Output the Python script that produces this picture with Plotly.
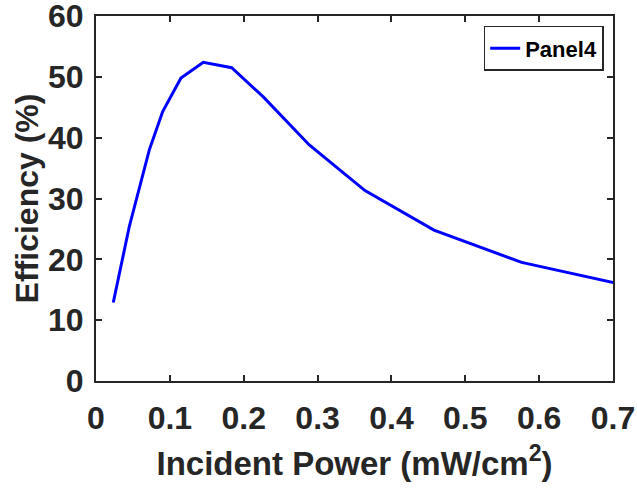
import plotly.graph_objects as go

incident_power = [0.0234, 0.0451, 0.0722, 0.0903, 0.115, 0.1453, 0.1837, 0.2265,
                  0.2888, 0.3642, 0.4576, 0.5763, 0.726]
efficiency = [12.9, 25.4, 38.0, 44.3, 49.8, 52.4, 51.5, 46.7,
              38.8, 31.3, 24.8, 19.5, 15.5]

x_ticks = [0, 0.1, 0.2, 0.3, 0.4, 0.5, 0.6, 0.7]
x_tick_labels = ["0", "0.1", "0.2", "0.3", "0.4", "0.5", "0.6", "0.7"]
y_ticks = [0, 10, 20, 30, 40, 50, 60]
y_tick_labels = ["0", "10", "20", "30", "40", "50", "60"]

axis_color = "#262626"
font_family = "Liberation Sans, Arial, Helvetica, sans-serif"

fig = go.Figure()
fig.add_trace(go.Scatter(
    x=incident_power, y=efficiency, mode="lines", name="<b>Panel4</b>",
    line=dict(color="#0000FF", width=3),
))

axis_common = dict(
    showgrid=False, zeroline=False, showline=True, linecolor=axis_color,
    linewidth=2, mirror="ticks", ticks="inside", ticklen=6, tickwidth=2,
    tickcolor=axis_color, automargin=False, ticklabeloverflow="allow",
    tickfont=dict(family=font_family, size=32, color=axis_color),
)

fig.update_layout(
    width=637, height=488,
    margin=dict(l=96, r=24, t=16, b=107),
    paper_bgcolor="white", plot_bgcolor="white",
    font=dict(family=font_family, color=axis_color),
    showlegend=True,
    legend=dict(
        x=0.982, y=0.973, xanchor="right", yanchor="top",
        bgcolor="white", bordercolor=axis_color, borderwidth=1.5,
        font=dict(family=font_family, size=22, color="black"),
        itemwidth=30, tracegroupgap=0,
    ),
    xaxis=dict(
        range=[0, 0.7], tickvals=x_ticks, ticktext=[f"<b>{t}</b>" for t in x_tick_labels],
        title=dict(text="<b>Incident Power (mW/cm<sup>2</sup>)</b>",
                   font=dict(family=font_family, size=33, color=axis_color),
                   standoff=16),
        ticklabelstandoff=8,
        **axis_common,
    ),
    yaxis=dict(
        range=[0, 60], tickvals=y_ticks, ticktext=[f"<b>{t}</b>" for t in y_tick_labels],
        title=dict(text="<b>Efficiency (%)</b>",
                   font=dict(family=font_family, size=32, color=axis_color),
                   standoff=0),
        ticklabelstandoff=4,
        **axis_common,
    ),
)

fig.write_html(
    "out.html",
    config={"displayModeBar": False},
    post_script="document.body.style.margin='0';document.body.style.padding='0';",
)
